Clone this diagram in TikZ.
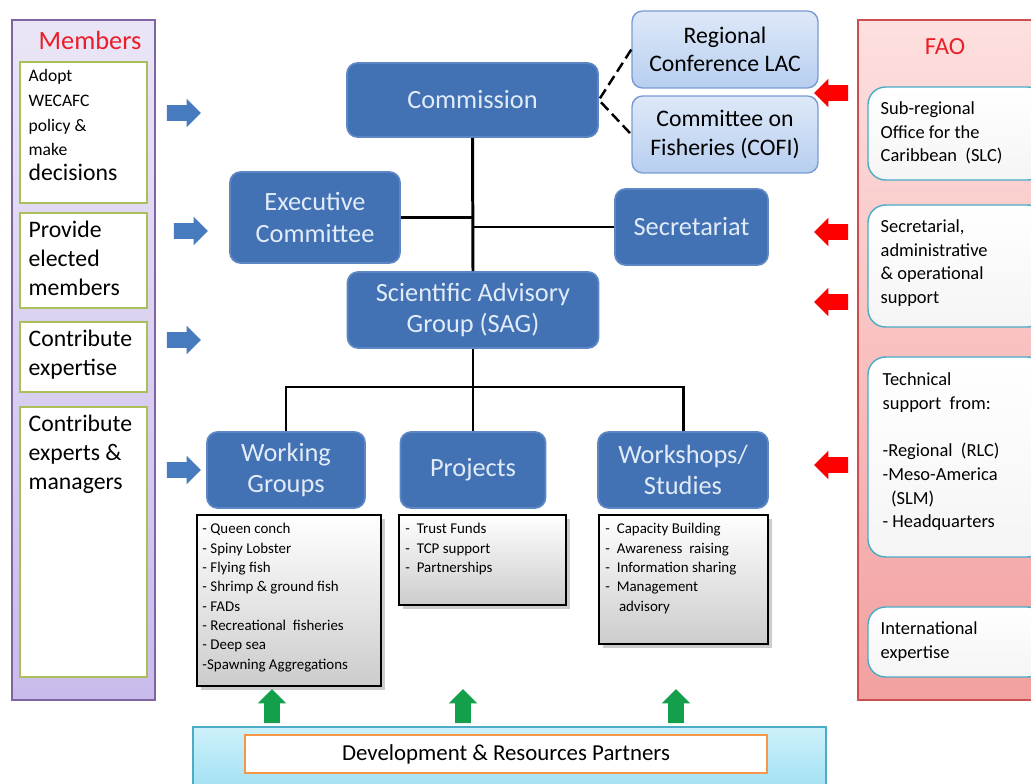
\documentclass[tikz,border=0pt]{standalone}
\usepackage{fontspec}
\setmainfont{Carlito}
\usetikzlibrary{positioning, shapes.arrows, shadows, calc}

\definecolor{boxblue}{RGB}{66,113,180}
\definecolor{boxedge}{RGB}{92,135,196}
\definecolor{boxtext}{RGB}{226,236,248}
\definecolor{lightblue1}{RGB}{222,233,248}
\definecolor{lightblue2}{RGB}{183,206,240}
\definecolor{lightedge}{RGB}{120,155,210}
\definecolor{arrowblue}{RGB}{72,122,190}
\definecolor{lav1}{RGB}{234,229,246}
\definecolor{lav2}{RGB}{201,187,235}
\definecolor{lavedge}{RGB}{128,100,162}
\definecolor{olive}{RGB}{170,190,90}
\definecolor{fao1}{RGB}{252,224,223}
\definecolor{fao2}{RGB}{243,160,160}
\definecolor{faoedge}{RGB}{205,80,80}
\definecolor{teal}{RGB}{75,172,198}
\definecolor{cyan1}{RGB}{205,241,250}
\definecolor{cyan2}{RGB}{160,224,243}
\definecolor{orangeedge}{RGB}{247,150,70}
\definecolor{greenarrow}{RGB}{20,160,75}
\definecolor{titlered}{RGB}{235,30,40}

\begin{document}
\begin{tikzpicture}[x=0.02cm, y=-0.02cm,
    bluebox/.style={draw=boxedge, fill=boxblue, rounded corners=6pt, line width=1pt,
      text=boxtext, align=center, font=\fontsize{15}{18}\selectfont},
    lightbox/.style={draw=lightedge, top color=lightblue1, bottom color=lightblue2,
      rounded corners=6pt, line width=0.8pt, align=center, font=\fontsize{13.5}{16}\selectfont},
    listbox/.style={draw=black, line width=1pt, top color=white, bottom color=gray!40,
      drop shadow={opacity=0.4, shadow xshift=2pt, shadow yshift=-2pt}},
    listtext/.style={anchor=north west, inner sep=0pt, align=left,
      font=\fontsize{8.5}{11}\selectfont},
    memberbox/.style={draw=olive, fill=white, line width=0.8pt},
    membertext/.style={anchor=north west, inner sep=0pt, align=left,
      font=\fontsize{13.5}{16.5}\selectfont},
    faobox/.style={draw=teal, top color=white, bottom color=gray!8, rounded corners=10pt, line width=0.8pt},
    faotext/.style={anchor=north west, inner sep=0pt, align=left,
      font=\fontsize{10.5}{13.5}\selectfont},
    blockarrow/.style={single arrow, minimum height=0.68cm,
      inner xsep=0pt, inner ysep=0.15cm, single arrow head extend=0.13cm},
    bluearrow/.style={blockarrow, fill=arrowblue},
    redarrow/.style={blockarrow, fill=red, rotate=180},
    greenarrow/.style={blockarrow, fill=greenarrow, rotate=90},
    treeline/.style={line width=1.7pt}]

    \clip (0,0) rectangle (1031,784);

    % members side
    \node [draw=lavedge, top color=lav1, bottom color=lav2, line width=1pt,
      minimum width=2.86cm, minimum height=13.6cm] (members) at (83.5,360) {};
    \node [text=titlered, font=\fontsize{15}{18}\selectfont] (memberstitle) at (90,40) {Members};
    \node [memberbox, minimum width=2.54cm, minimum height=2.82cm] (adopt) at (83.5,132.5) {};
    \node [memberbox, minimum width=2.54cm, minimum height=1.9cm] (provide) at (83.5,260.5) {};
    \node [memberbox, minimum width=2.54cm, minimum height=1.4cm] (expertise) at (83.5,357) {};
    \node [memberbox, minimum width=2.54cm, minimum height=5.4cm] (experts) at (83.5,542) {};
    \node [membertext, font=\fontsize{10}{14}\selectfont] (adopttext) at ($(adopt.north west)+(9,8)$)
      {Adopt\\WECAFC\\policy \&\\make\\{\fontsize{13.5}{14}\selectfont decisions}};
    \node [membertext] (providetext) at ($(provide.north west)+(9,8)$) {Provide\\elected\\members};
    \node [membertext] (expertisetext) at ($(expertise.north west)+(9,8)$) {Contribute\\expertise};
    \node [membertext] (expertstext) at ($(experts.north west)+(9,8)$) {Contribute\\experts \&\\managers};

    \node [bluearrow] (arr1) at (180,113) {};
    \node [bluearrow] (arr2) at (187,231) {};
    \node [bluearrow] (arr3) at (180,340) {};
    \node [bluearrow] (arr4) at (180,470) {};

    % centre
    \node [bluebox, minimum width=5.02cm, minimum height=1.48cm] (commission) at (472.5,100) {Commission};
    \node [lightbox, minimum width=3.72cm, minimum height=1.54cm] (conference) at (725,49.5) {Regional\\Conference LAC};
    \node [lightbox, minimum width=3.72cm, minimum height=1.54cm] (cofi) at (725,134.5) {Committee on\\Fisheries (COFI)};
    \node [bluebox, minimum width=3.4cm, minimum height=1.82cm] (executive) at (315,217.5) {Executive\\Committee};
    \node [bluebox, minimum width=3.06cm, minimum height=1.52cm] (secretariat) at (691.5,227) {Secretariat};
    \node [bluebox, minimum width=5.02cm, minimum height=1.52cm] (sag) at (473,310) {Scientific Advisory\\Group (SAG)};
    \node [bluebox, minimum width=3.16cm, minimum height=1.52cm] (working) at (286,470) {Working\\Groups};
    \node [bluebox, minimum width=2.9cm, minimum height=1.52cm] (projects) at (473,470) {Projects};
    \node [bluebox, minimum width=3.4cm, minimum height=1.52cm] (workshops) at (683,470) {Workshops/\\Studies};

    \draw [line width=1.4pt, dash pattern=on 6pt off 3pt] (conference.west) -- (commission.east) -- (cofi.west);
    \draw [treeline] (commission.south) -- (sag.north);
    \draw [treeline] (executive.east) -- (executive.east -| commission.south);
    \draw [treeline] (secretariat.west) -- (secretariat.west -| commission.south);
    \coordinate (split) at (473,387);
    \draw [treeline] (sag.south) -- (projects.north);
    \draw [treeline] (working.north) |- (split) -| (workshops.north);

    \node [listbox, minimum width=3.68cm, minimum height=3.42cm] (workinglist) at (289,600.5) {};
    \node [listbox, minimum width=3.34cm, minimum height=1.8cm] (projectlist) at (482.5,560) {};
    \node [listbox, minimum width=3.38cm, minimum height=2.58cm] (workshoplist) at (683.5,579.5) {};
    \node [listtext] (workingitems) at ($(workinglist.north west)+(6,9)$)
      {- Queen conch\\- Spiny Lobster\\- Flying fish\\- Shrimp \& ground fish\\- FADs\\- Recreational\ \ fisheries\\- Deep sea\\-Spawning Aggregations};
    \node [listtext] (projectitems) at ($(projectlist.north west)+(7,9)$)
      {-\ \ Trust Funds\\-\ \ TCP support\\-\ \ Partnerships};
    \node [listtext] (workshopitems) at ($(workshoplist.north west)+(7,9)$)
      {-\ \ Capacity Building\\-\ \ Awareness\ \ raising\\-\ \ Information sharing\\-\ \ Management\\\ \ \ \ advisory};

    % FAO side
    \node [draw=faoedge, top color=fao1, bottom color=fao2, line width=1pt,
      minimum width=3.64cm, minimum height=13.6cm] (fao) at (949,360) {};
    \node [text=titlered, font=\fontsize{14}{17}\selectfont] (faotitle) at (945,47) {FAO};
    \node [faobox, minimum width=3.54cm, minimum height=1.86cm] (slc) at (956.5,133.5) {};
    \node [faobox, minimum width=3.54cm, minimum height=2.44cm] (support) at (956.5,266) {};
    \node [faobox, minimum width=3.54cm, minimum height=4.0cm] (technical) at (956.5,457) {};
    \node [faobox, minimum width=3.54cm, minimum height=1.4cm] (international) at (956.5,642) {};
    \node [faotext] (slctext) at ($(slc.north west)+(13,15)$) {Sub-regional\\Office for the\\Caribbean\ \ (SLC)};
    \node [faotext] (supporttext) at ($(support.north west)+(13,15)$)
      {Secretarial,\\administrative\\\& operational\\support};
    \node [faotext] (technicaltext) at ($(technical.north west)+(15,16)$)
      {Technical\\support\ \ from:\\[13.5pt]-Regional\ \ (RLC)\\-Meso-America\\\ \ (SLM)\\- Headquarters};
    \node [faotext] (internationaltext) at ($(international.north west)+(13,15)$) {International\\expertise};

    \node [redarrow] (red1) at (835,93) {};
    \node [redarrow] (red2) at (835,232) {};
    \node [redarrow] (red3) at (835,302) {};
    \node [redarrow] (red4) at (835,465) {};

    % partners
    \node [draw=teal, top color=cyan1, bottom color=cyan2, line width=0.8pt,
      minimum width=12.66cm, minimum height=1.3cm] (partners) at (509.5,759.5) {};
    \node [draw=orangeedge, fill=white, line width=0.8pt, minimum width=10.44cm, minimum height=0.76cm,
      font=\fontsize{13}{15}\selectfont] (partnerlabel) at (506,754) {Development \& Resources Partners};
    \node [greenarrow] (up1) at (272,710) {};
    \node [greenarrow] (up2) at (463,710) {};
    \node [greenarrow] (up3) at (676,710) {};
\end{tikzpicture}
\end{document}
